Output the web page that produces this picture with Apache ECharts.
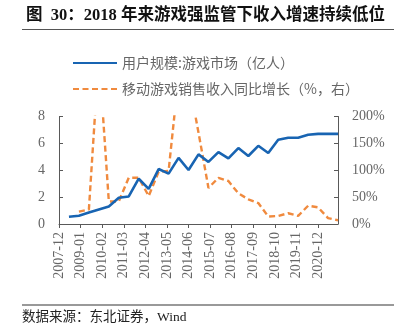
<!DOCTYPE html>
<html><head><meta charset="utf-8">
<script src="https://cdn.jsdelivr.net/npm/echarts@6/dist/echarts.min.js"></script>
<style>html,body{margin:0;padding:0;background:#fff}#c{width:411px;height:334px}</style>
</head><body><div id="c"></div>
<script>
// semi-annual observation dates
const userDates = ['2008-06','2008-12','2009-06','2009-12','2010-06','2010-12','2011-06','2011-12','2012-06','2012-12','2013-06','2013-12','2014-06','2014-12','2015-06','2015-12','2016-06','2016-12','2017-06','2017-12','2018-06','2018-12','2019-06','2019-12','2020-06','2020-12','2021-06','2021-12'];
const userValues = [0.54,0.62,0.85,1.08,1.31,1.95,2.05,3.37,2.62,4.09,3.75,4.92,4.02,5.18,4.62,5.35,4.88,5.65,5.06,5.82,5.28,6.27,6.42,6.42,6.64,6.71,6.71,6.71];
const growthDates = ['2008-12','2009-06','2009-12','2010-06','2010-12','2011-06','2011-12','2012-06','2012-12','2013-06','2013-12','2014-06','2014-12','2015-06','2015-12','2016-06','2016-12','2017-06','2017-12','2018-06','2018-12','2019-06','2019-12','2020-06','2020-12','2021-06','2021-12'];
const growthValues = [23,27,315,42,42,86,86,52,97,99,276,270,170,67,86,80,57,46,39,14,15,20,15,34,31,11,7];
const axisStart = [2007, 12];
const axisEnd = [2021, 12];
const leftTicks = [0, 8, 2];
const rightTicks = [0, 200, 50];
const seriesNames = ['用户规模:游戏市场（亿人）', '移动游戏销售收入同比增长（%，右）'];
const titleText = '图  30：2018 年来游戏强监管下收入增速持续低位';
const sourceText = '数据来源：东北证券，Wind';

// monthly category axis
const months = [];
let y = axisStart[0], m = axisStart[1];
while (y < axisEnd[0] || (y === axisEnd[0] && m <= axisEnd[1])) {
  months.push(y + '-' + (m < 10 ? '0' + m : '' + m));
  m++; if (m > 12) { m = 1; y++; }
}

const serif = 'Liberation Serif, "Times New Roman", serif';
const gray = '#595959';
const chart = echarts.init(document.getElementById('c'));
chart.setOption({
  animation: false,
  title: {
    text: titleText, left: 21, top: 2,
    textStyle: { fontSize: 16.5, fontWeight: 'bold', color: '#111', fontFamily: 'Liberation Serif, "Noto Sans CJK SC", serif' }
  },
  graphic: [
    { type: 'line', shape: { x1: 22, y1: 29.5, x2: 394, y2: 29.5 }, style: { stroke: '#555', lineWidth: 1 } },
    { type: 'line', shape: { x1: 22, y1: 305, x2: 394, y2: 305 }, style: { stroke: '#999', lineWidth: 2 } },
    { type: 'text', left: 22, top: 311, style: { text: sourceText, fontSize: 13.5, fill: '#222', fontFamily: 'Liberation Serif, "Noto Sans CJK SC", serif' } }
  ],
  legend: {
    orient: 'vertical', left: 67, top: 51, itemWidth: 44, itemHeight: 12, itemGap: 12,
    itemStyle: { opacity: 0 },
    textStyle: { fontSize: 14, color: '#666', fontFamily: '"Noto Sans CJK SC", sans-serif' },
    data: seriesNames
  },
  grid: { left: 59, right: 73, top: 116.5, bottom: 110 },
  xAxis: {
    type: 'category', data: months, boundaryGap: false,
    axisLine: { lineStyle: { color: gray, width: 1 } },
    axisTick: { interval: 12, length: 4, lineStyle: { color: gray } },
    axisLabel: { interval: 12, rotate: 90, margin: 8, fontSize: 14, color: '#666', fontFamily: serif }
  },
  yAxis: [
    {
      type: 'value', min: leftTicks[0], max: leftTicks[1], interval: leftTicks[2],
      splitLine: { show: false },
      axisLine: { show: true, lineStyle: { color: gray } },
      axisTick: { show: true, inside: true, length: 4, lineStyle: { color: gray } },
      axisLabel: { margin: 14, fontSize: 14, color: '#666', fontFamily: serif }
    },
    {
      type: 'value', min: rightTicks[0], max: rightTicks[1], interval: rightTicks[2], position: 'right',
      splitLine: { show: false },
      axisLine: { show: true, lineStyle: { color: gray } },
      axisTick: { show: true, inside: true, length: 4, lineStyle: { color: gray } },
      axisLabel: { margin: 14, fontSize: 14, color: '#666', fontFamily: serif, formatter: '{value}%' }
    }
  ],
  series: [
    {
      name: seriesNames[0], type: 'line', yAxisIndex: 0, symbol: 'none',
      data: userDates.map((d, i) => [d, userValues[i]]),
      lineStyle: { color: '#1864B2', width: 2.6 }, itemStyle: { color: '#1864B2' }, z: 3
    },
    {
      name: seriesNames[1], type: 'line', yAxisIndex: 1, symbol: 'none', clip: true,
      data: growthDates.map((d, i) => [d, growthValues[i]]),
      lineStyle: { color: '#F08A3E', width: 2.4, type: [6, 3.5] }, itemStyle: { color: '#F08A3E' }, z: 2
    }
  ]
});
</script></body></html>
